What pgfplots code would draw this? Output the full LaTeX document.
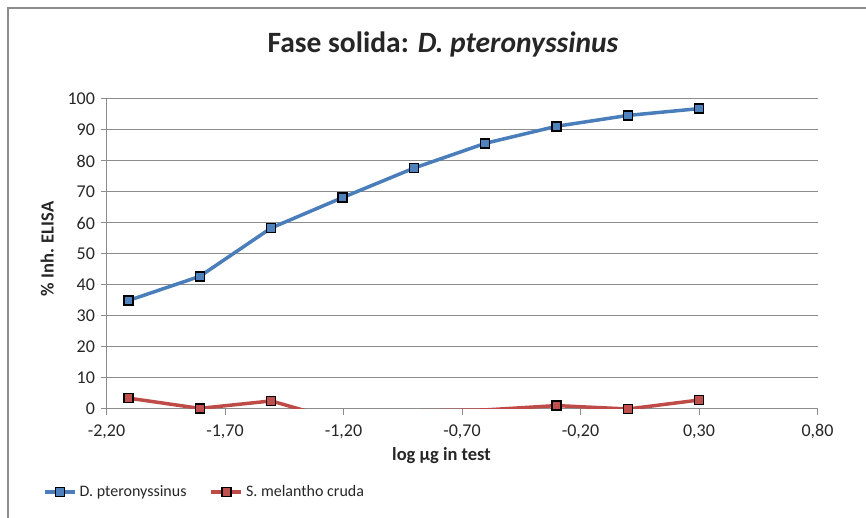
\documentclass[border=0pt]{standalone}
\usepackage{fontspec}
\setmainfont{Carlito}
\usepackage{pgfplots}
\pgfplotsset{compat=1.18}

\definecolor{lineblue}{HTML}{4A7EBB}
\definecolor{markblue}{HTML}{4F81BD}
\definecolor{linered}{HTML}{BE4B48}
\definecolor{markred}{HTML}{C0504D}
\definecolor{gridgray}{HTML}{8C8C8C}
\definecolor{txt}{HTML}{262626}

\pgfplotstableread{
x       y
-2.107  35.0
-1.806  42.8
-1.505  58.4
-1.204  68.2
-0.903  77.7
-0.602  85.7
-0.301  91.2
0.000   94.7
0.301   96.9
}\dpter

\pgfplotstableread{
x       y
-2.107  3.5
-1.806  0.2
-1.505  2.6
-1.204  -4.0
-0.903  -0.6
-0.602  -0.3
-0.301  1.1
0.000   0.0
0.301   2.9
}\smel

\begin{document}
\begin{tikzpicture}
\useasboundingbox (0pt,0pt) rectangle (866pt,518pt);
% chart area border (only left and top are in the crop)
\draw[gridgray, line width=1.2pt] (8pt,0pt) -- (8pt,510pt) -- (866pt,510pt);

\node[anchor=base, txt, font=\fontsize{29.5}{34}\selectfont\bfseries]
  at (443pt,465pt) {Fase solida: \textit{D. pteronyssinus}};
\node[anchor=base, txt, font=\fontsize{18.5}{22}\selectfont\bfseries]
  at (441.5pt,57pt) {log µg in test};
\node[anchor=base, rotate=90, txt, font=\fontsize{18.5}{22}\selectfont\bfseries]
  at (53.5pt,269pt) {\% Inh. ELISA};

\begin{axis}[
    at={(106.5pt,109pt)}, anchor=south west,
    scale only axis, width=711pt, height=310pt,
    xmin=-2.2, xmax=0.8, ymin=0, ymax=100,
    axis x line*=bottom, axis y line*=left,
    axis line style={gridgray, line width=1pt},
    xtick={-2.2,-1.7,-1.2,-0.7,-0.2,0.3,0.8},
    xticklabels={{-2,20},{-1,70},{-1,20},{-0,70},{-0,20},{0,30},{0,80}},
    ytick={0,10,...,100},
    ymajorgrids, grid style={gridgray, line width=1pt},
    tick align=outside, major tick length=6pt,
    tick style={gridgray, line width=1pt},
    ticklabel style={txt, font=\fontsize{18}{21}\selectfont},
    /pgf/number format/assume math mode=true,
    x tick label style={yshift=-6pt},
    y tick label style={xshift=-2pt},
    clip mode=individual,
    legend columns=2,
    legend cell align=left,
    legend style={at={(rel axis cs:-0.0893,-0.268)}, anchor=west,
        draw=none, fill=none, inner sep=0pt,
        font=\fontsize{16}{19}\selectfont, text=txt,
        nodes={inner xsep=3pt, inner ysep=2pt},
        /tikz/every even column/.append style={column sep=20pt}},
    legend image code/.code={
        \draw[mark repeat=2, mark phase=2, #1] plot coordinates {(0pt,0pt) (15pt,0pt) (30pt,0pt)};},
]
\addplot[lineblue, line width=3.5pt, mark=square*,
    mark size=4.5pt, mark options={fill=markblue, draw=black, line width=1.5pt}]
    table {\dpter};
\addlegendentry{D. pteronyssinus}

\addplot[linered, line width=3.5pt, forget plot] table {\smel};
\addplot[only marks, mark=square*, mark size=4.5pt,
    mark options={fill=markred, draw=black, line width=1.5pt},
    restrict y to domain=-0.5:100, forget plot] table {\smel};
\addlegendimage{linered, line width=3.5pt, mark=square*, mark size=4.5pt,
    mark options={fill=markred, draw=black, line width=1.5pt}}
\addlegendentry{S. melantho cruda}
\end{axis}
\end{tikzpicture}
\end{document}
